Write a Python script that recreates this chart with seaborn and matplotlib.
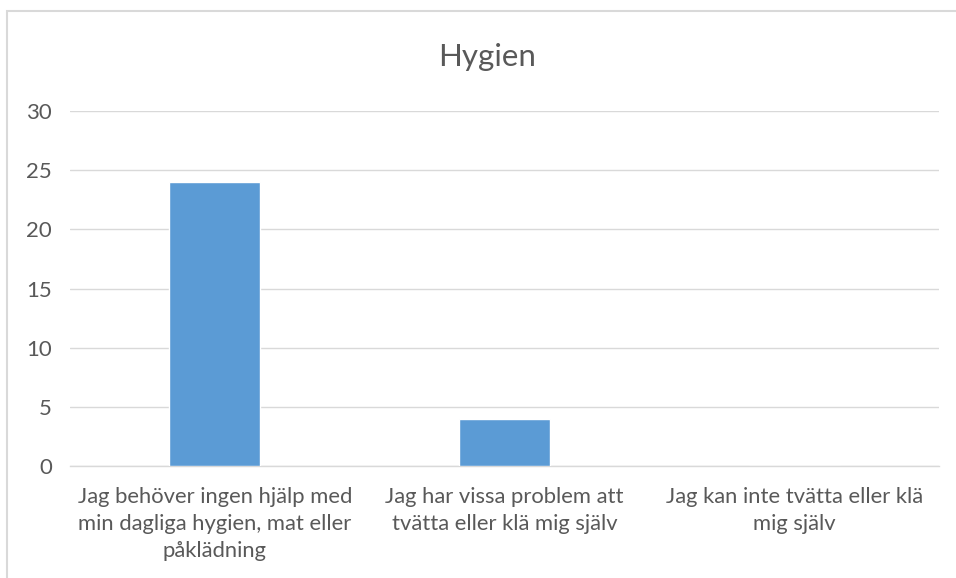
import matplotlib
matplotlib.use("Agg")
import matplotlib.pyplot as plt
import seaborn as sns
import pandas as pd
from matplotlib.patches import Rectangle

categories = [
    "Jag behöver ingen hjälp med\nmin dagliga hygien, mat eller\npåklädning",
    "Jag har vissa problem att\ntvätta eller klä mig själv",
    "Jag kan inte tvätta eller klä\nmig själv",
]
values = [24, 4, 0]
yticks = [0, 5, 10, 15, 20, 25, 30]
title = "Hygien"

sns.set_style("white")
plt.rcParams["font.family"] = ["Lato", "DejaVu Sans"]

fig = plt.figure(figsize=(9.56, 5.78), dpi=100)
ax = fig.add_axes([70/956, 1-466/578, (939-70)/956, (466-111)/578])

df = pd.DataFrame({"cat": categories, "val": values})
sns.barplot(data=df, x="cat", y="val", color="#5B9BD5", width=0.314,
            saturation=1, ax=ax, zorder=3)

ax.set_ylim(0, 30)
ax.set_yticks(yticks)
ax.set_xlim(-0.5, 2.5)
ax.grid(axis="y", color="#D9D9D9", linewidth=1, zorder=0)
ax.set_axisbelow(True)
for s in ["top", "right", "left"]:
    ax.spines[s].set_visible(False)
ax.spines["bottom"].set_color("#D9D9D9")
ax.spines["bottom"].set_linewidth(1)
ax.set_xlabel("")
ax.set_ylabel("")
ax.tick_params(axis="y", length=0, pad=13, labelsize=16, labelcolor="#595959")
ax.tick_params(axis="x", length=0, pad=15, labelsize=15.8, labelcolor="#595959")
for lbl in ax.get_xticklabels():
    lbl.set_linespacing(1.45)

fig.text(487/956, 1-66/578, title, ha="center", va="baseline",
         fontsize=22.5, color="#595959")

fig.patches.append(Rectangle((7/956, -0.1), 1.2, 1-11/578+0.1,
                             transform=fig.transFigure, fill=False,
                             edgecolor="#D9D9D9", linewidth=1.5))

fig.savefig("out.png", dpi=100)
